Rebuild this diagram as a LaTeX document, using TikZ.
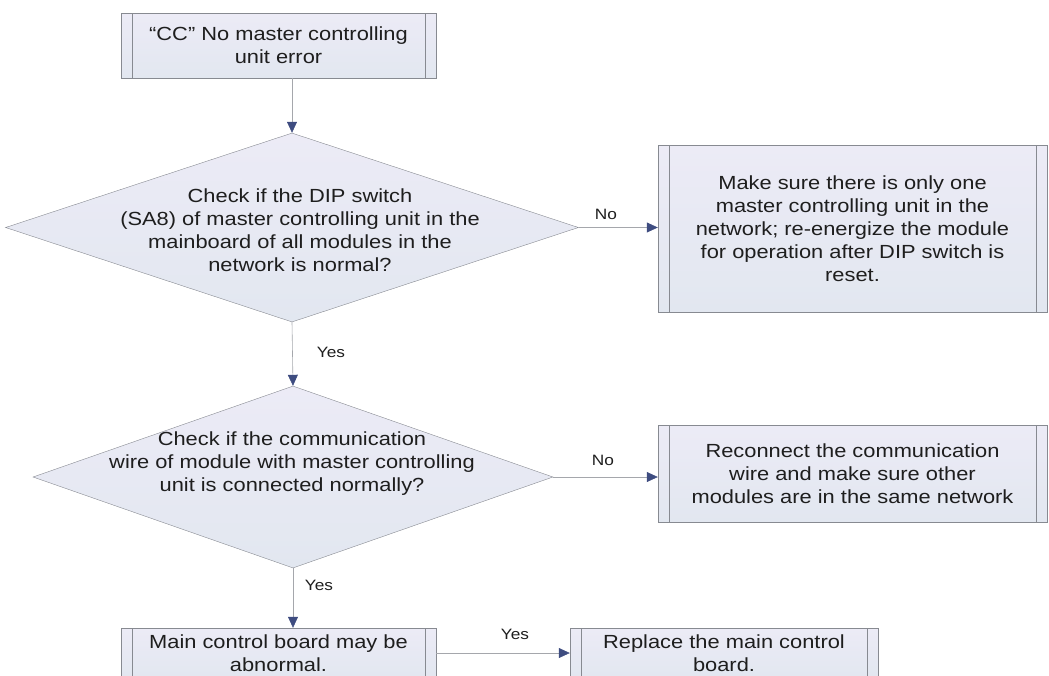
\documentclass[tikz,border=0pt]{standalone}
\usepackage{fontspec}
\setmainfont{Liberation Sans}[FakeStretch=1.15]
\usetikzlibrary{shapes.geometric,arrows.meta}

\definecolor{boxtop}{RGB}{236,235,246}
\definecolor{boxbot}{RGB}{226,231,240}
\definecolor{boxline}{RGB}{135,138,145}
\definecolor{tipblue}{RGB}{62,76,128}
\definecolor{txtgray}{RGB}{30,30,30}

\tikzset{
  procbox/.style={draw=boxline, top color=boxtop, bottom color=boxbot, rectangle, inner sep=0pt,
    align=center, text=txtgray, font=\fontsize{19}{23}\selectfont,
    path picture={
      \draw[boxline] ([xshift=11pt]path picture bounding box.north west) -- ([xshift=11pt]path picture bounding box.south west);
      \draw[boxline] ([xshift=-11pt]path picture bounding box.north east) -- ([xshift=-11pt]path picture bounding box.south east);}},
  decision/.style={draw=boxline, top color=boxtop, bottom color=boxbot, diamond, inner sep=0pt},
  dtext/.style={align=center, text=txtgray, font=\fontsize{19}{23}\selectfont},
  flow/.style={draw=boxline!75, line width=0.6pt, -{Triangle[length=11pt,width=10pt,color=tipblue]}},
  answer/.style={text=txtgray, font=\fontsize{15}{18}\selectfont}
}

\begin{document}
\begin{tikzpicture}[x=1pt,y=1pt,yscale=-1,xscale=1]
  \useasboundingbox (0,0) rectangle (1049,675);
  \clip (0,0) rectangle (1049,675);

  %Shape: Process [id:start]
  \node[procbox, minimum width=315pt, minimum height=65pt] (start) at (278.5,45.5)
    {``CC'' No master controlling\\unit error};

  %Shape: Diamond [id:dip]
  \node[decision, minimum width=573pt, minimum height=189pt] (dip) at (292,227.5) {};
  % Text Node
  \node[dtext] (diptext) at (300,230)
    {Check if the DIP switch\\(SA8) of master controlling unit in the\\mainboard of all modules in the\\network is normal?};

  %Shape: Process [id:reset]
  \node[procbox, minimum width=389pt, minimum height=167pt] (reset) at (852.5,228.5)
    {Make sure there is only one\\master controlling unit in the\\network; re-energize the module\\for operation after DIP switch is\\reset.};

  %Shape: Diamond [id:wire]
  \node[decision, minimum width=520pt, minimum height=182pt] (wire) at (293,477) {};
  % Text Node
  \node[dtext] (wiretext) at (292,464)
    {Check if the communication\\wire of module with master controlling\\unit is connected normally?};

  %Shape: Process [id:reconnect]
  \node[procbox, minimum width=389pt, minimum height=97pt] (reconnect) at (852.5,473.5)
    {Reconnect the communication\\wire and make sure other\\modules are in the same network};

  %Shape: Process [id:board]
  \node[procbox, minimum width=315pt, minimum height=50pt] (board) at (278.5,653)
    {Main control board may be\\abnormal.};

  %Shape: Process [id:replace]
  \node[procbox, minimum width=308pt, minimum height=50pt] (replace) at (724,653)
    {Replace the main control\\board.};

  %Straight Lines
  \draw[flow] (dip.north |- start.south) -- (dip.north);
  \draw[flow] (dip.east) -- (reset.west |- dip.east);
  \draw[flow] (dip.south) -- (wire.north);
  \draw[flow] (wire.east) -- (reconnect.west |- wire.east);
  \draw[flow] (wire.south) -- (wire.south |- board.north);
  \draw[flow] (board.east) -- (replace.west);

  % Text Node
  \node[answer] (no1) at (606,214) {No};
  % Text Node
  \node[answer] (yes1) at (331,352) {Yes};
  % Text Node
  \node[answer] (no2) at (603,460) {No};
  % Text Node
  \node[answer] (yes2) at (319,585) {Yes};
  % Text Node
  \node[answer] (yes3) at (515,634) {Yes};
\end{tikzpicture}
\end{document}
